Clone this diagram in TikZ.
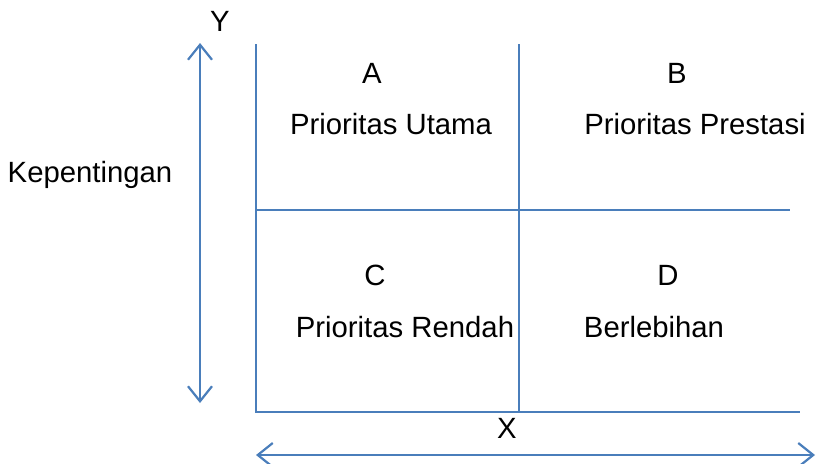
\documentclass[tikz,border=0pt]{standalone}
\usepackage{fontspec}
\setmainfont{Liberation Sans}
\usetikzlibrary{arrows.meta}
\definecolor{lineblue}{HTML}{4A7EBB}
\tikzset{
  gridline/.style={draw=lineblue, line width=2.2pt},
  axisarrow/.style={draw=lineblue, line width=2.2pt, {Straight Barb[length=15pt,width=24pt]}-{Straight Barb[length=15pt,width=24pt]}},
  lbl/.style={inner sep=0pt, font=\fontsize{29.3}{33}\selectfont, text=black},
}
\begin{document}
\begin{tikzpicture}[x=1pt,y=-1pt]
\useasboundingbox (0,0) rectangle (816,463);
% grid
\coordinate (tl) at (256,44);
\coordinate (bl) at (256,412);
\coordinate (br) at (800,412);
\coordinate (mt) at (519,44);
\coordinate (mb) at (519,412);
\coordinate (ml) at (256,210);
\coordinate (mr) at (790,210);
\draw[gridline] (tl) -- (bl) -- (br);
\draw[gridline] (mt) -- (mb);
\draw[gridline] (ml) -- (mr);
% axes
\coordinate (yt) at (200,43);
\coordinate (yb) at (200,403);
\coordinate (xl) at (256,455);
\coordinate (xr) at (815,455);
\draw[axisarrow] (yt) -- (yb);
\draw[axisarrow] (xl) -- (xr);
% labels
\node[lbl] (Y) at (220,21) {Y};
\node[lbl] (X) at (507,428) {X};
\node[lbl] (kep) at (90,175) {Kepentingan};
\node[lbl] (A) at (372,73) {A};
\node[lbl] (Atxt) at (391,124) {Prioritas Utama};
\node[lbl] (B) at (677,73) {B};
\node[lbl] (Btxt) at (695,124) {Prioritas Prestasi};
\node[lbl] (C) at (375,275) {C};
\node[lbl] (Ctxt) at (405,327) {Prioritas Rendah};
\node[lbl] (D) at (668,275) {D};
\node[lbl] (Dtxt) at (654,327) {Berlebihan};
\end{tikzpicture}
\end{document}
